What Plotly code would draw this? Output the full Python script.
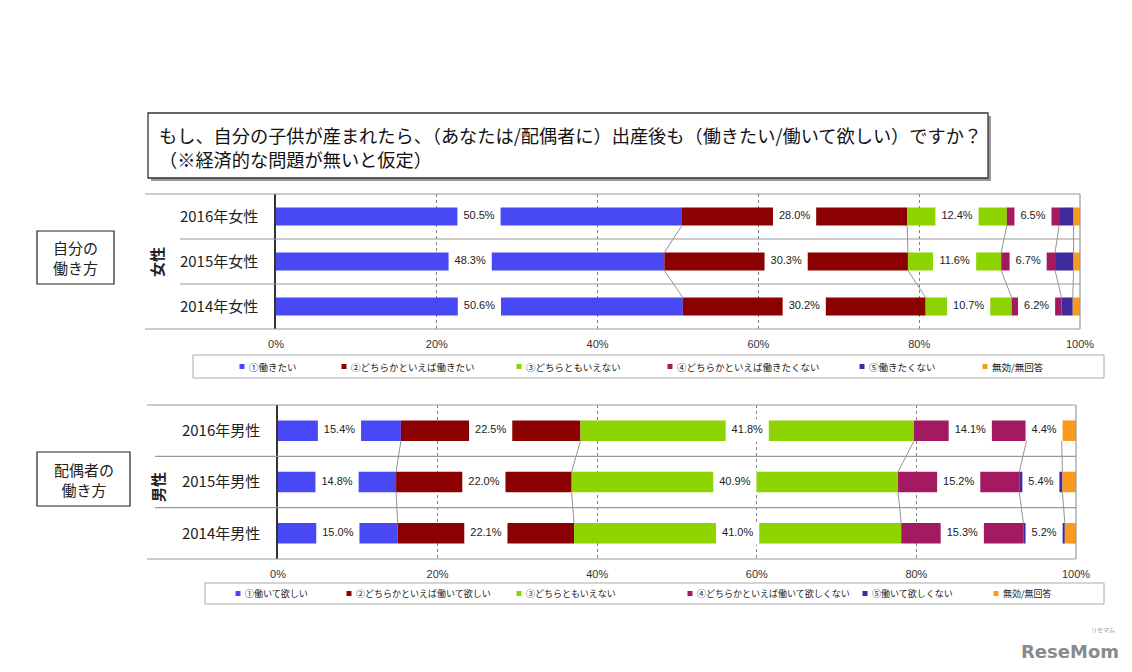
import plotly.graph_objects as go

W, H = 1132, 672

# ---------------- data ----------------
series_women = ["①働きたい", "②どちらかといえば働きたい", "③どちらともいえない",
                "④どちらかといえば働きたくない", "⑤働きたくない", "無効/無回答"]
series_men = ["①働いて欲しい", "②どちらかといえば働いて欲しい", "③どちらともいえない",
              "④どちらかといえば働いて欲しくない", "⑤働いて欲しくない", "無効/無回答"]

women_rows = ["2014年女性", "2015年女性", "2016年女性"]
women_1 = [50.6, 48.3, 50.5]
women_2 = [30.2, 30.3, 28.0]
women_3 = [10.7, 11.6, 12.4]
women_4 = [6.2, 6.7, 6.5]
women_5 = [1.4, 2.3, 1.8]
women_6 = [0.9, 0.8, 0.8]

men_rows = ["2014年男性", "2015年男性", "2016年男性"]
men_1 = [15.0, 14.8, 15.4]
men_2 = [22.1, 22.0, 22.5]
men_3 = [41.0, 40.9, 41.8]
men_4 = [15.3, 15.2, 14.1]
men_5 = [5.2, 5.4, 4.4]
men_6 = [1.4, 1.7, 1.8]

x_ticks = [0, 20, 40, 60, 80, 100]
x_tick_labels = ["0%", "20%", "40%", "60%", "80%", "100%"]

title_text = "もし、自分の子供が産まれたら、（あなたは/配偶者に）出産後も（働きたい/働いて欲しい）ですか？<br>（※経済的な問題が無いと仮定）"
box_top_text = "自分の<br>働き方"
box_bottom_text = "配偶者の<br>働き方"
side_top_text = "女性"
side_bottom_text = "男性"

# ---------------- style ----------------
colors = ["#4848F4", "#8B0000", "#8DD400", "#A31A60", "#3F2A9C", "#F79A1E"]
LABEL_MIN = 3.0
CJK = "Noto Sans CJK JP"
NUM = "Liberation Sans"
BAR_W = 0.4


def px_x(x):
    return x / W


def px_y(y):
    return 1 - y / H


def text_px(s, size=11):
    w = {"%": 0.889, ".": 0.278}
    return sum(w.get(ch, 0.556) for ch in s) * size


fig = go.Figure()


def add_panel(rows, series_vals, xa, ya, plot_px_width):
    ppu = plot_px_width / 100.0
    n = len(rows)
    ys = list(range(n))
    cum = [0.0] * n
    bounds = []
    gap_y, gap_x, gap_base, txt_x, txt_y, txt = [], [], [], [], [], []
    for k, vals in enumerate(series_vals):
        base = cum[:]
        fig.add_trace(go.Bar(y=ys, x=vals, base=base, orientation="h", width=BAR_W,
                             marker=dict(color=colors[k], line=dict(width=0)),
                             xaxis=xa, yaxis=ya, showlegend=False, hoverinfo="skip"))
        for i, v in enumerate(vals):
            if v >= LABEL_MIN:
                label = f"{v:.1f}%"
                g = (text_px(label) + 12) / ppu
                c = base[i] + v / 2
                gap_y.append(ys[i]); gap_x.append(g); gap_base.append(c - g / 2)
                txt_x.append(c); txt_y.append(ys[i]); txt.append(label)
        cum = [a + b for a, b in zip(cum, vals)]
        bounds.append(cum[:])
    fig.add_trace(go.Bar(y=gap_y, x=gap_x, base=gap_base, orientation="h", width=BAR_W + 0.04,
                         marker=dict(color="white", line=dict(width=0)),
                         xaxis=xa, yaxis=ya, showlegend=False, hoverinfo="skip"))
    fig.add_trace(go.Scatter(x=txt_x, y=txt_y, text=txt, mode="text",
                             textfont=dict(family=NUM, size=11, color="#222"),
                             xaxis=xa, yaxis=ya, showlegend=False, hoverinfo="skip"))
    lx, ly = [], []
    for b in bounds[:-1]:
        for i in range(n - 1, 0, -1):
            lx += [b[i], b[i - 1], None]
            ly += [ys[i] - BAR_W / 2, ys[i - 1] + BAR_W / 2, None]
    fig.add_trace(go.Scatter(x=lx, y=ly, mode="lines", line=dict(color="#777", width=0.8),
                             xaxis=xa, yaxis=ya, showlegend=False, hoverinfo="skip"))


TOP = dict(x0=276, x1=1080, y0=194, y1=329)
BOT = dict(x0=278, x1=1076, y0=405, y1=559)

add_panel(women_rows, [women_1, women_2, women_3, women_4, women_5, women_6], "x", "y",
          TOP["x1"] - TOP["x0"])
add_panel(men_rows, [men_1, men_2, men_3, men_4, men_5, men_6], "x2", "y2",
          BOT["x1"] - BOT["x0"])


def xaxis_cfg(P, anchor):
    return dict(domain=[px_x(P["x0"]), px_x(P["x1"])], range=[0, 100], anchor=anchor,
                tickvals=x_ticks, ticktext=x_tick_labels, showgrid=True, gridcolor="#808080",
                griddash="dot", gridwidth=1, zeroline=False, showline=False, ticks="",
                ticklabelstandoff=7, tickfont=dict(family=NUM, size=11, color="#333"),
                fixedrange=True, automargin=False)


def yaxis_cfg(P, anchor, rows):
    return dict(domain=[px_y(P["y1"]), px_y(P["y0"])], range=[-0.5, 2.5], anchor=anchor,
                tickvals=list(range(len(rows))), ticktext=rows, showgrid=False, zeroline=False,
                showline=True, linecolor="#333", linewidth=1.5, ticks="",
                ticklabelstandoff=13, tickfont=dict(family=CJK, size=15, color="#222"),
                fixedrange=True, automargin=False)


shapes = []


def pline(x0, y0, x1, y1, color="#9a9a9a", width=1.2, yref="paper"):
    shapes.append(dict(type="line", xref="paper", yref=yref, x0=px_x(x0), x1=px_x(x1),
                       y0=px_y(y0) if yref == "paper" else y0,
                       y1=px_y(y1) if yref == "paper" else y1,
                       line=dict(color=color, width=width)))


def prect(x0, y0, x1, y1, line_color="#333", width=1.2, fill="rgba(0,0,0,0)", layer="above"):
    shapes.append(dict(type="rect", xref="paper", yref="paper", x0=px_x(x0), x1=px_x(x1),
                       y0=px_y(y1), y1=px_y(y0), fillcolor=fill, layer=layer,
                       line=dict(color=line_color, width=width)))


# panel frames
pline(145, TOP["y0"], TOP["x1"], TOP["y0"])
pline(145, TOP["y1"], TOP["x1"], TOP["y1"])
pline(TOP["x1"], TOP["y0"], TOP["x1"], TOP["y1"])
for yv in [0.5, 1.5]:
    shapes.append(dict(type="line", xref="paper", yref="y", x0=px_x(180), x1=px_x(TOP["x1"]),
                       y0=yv, y1=yv, line=dict(color="#9a9a9a", width=1.2)))
pline(147, BOT["y0"], BOT["x1"], BOT["y0"])
pline(147, BOT["y1"], BOT["x1"], BOT["y1"])
pline(BOT["x1"], BOT["y0"], BOT["x1"], BOT["y1"])
for yv in [0.5, 1.5]:
    shapes.append(dict(type="line", xref="paper", yref="y2", x0=px_x(155), x1=px_x(BOT["x1"]),
                       y0=yv, y1=yv, line=dict(color="#9a9a9a", width=1.2)))

# title box with shadow
prect(151, 116, 991, 181, line_color="rgba(0,0,0,0)", width=0, fill="#9a9a9a", layer="below")
prect(148, 113, 988, 178, line_color="#333", width=1.3, fill="white", layer="below")
# side boxes
prect(37, 231, 114, 284, line_color="#222", width=1.2)
prect(37, 452, 130, 506, line_color="#222", width=1.2)
# legend boxes
prect(193, 355, 1104, 378, line_color="#aaa", width=1)
prect(205, 583, 1104, 604, line_color="#aaa", width=1)

annotations = []


def ptext(x, y, text, size, color="#111", xanchor="center", family=CJK, angle=0, align="center"):
    annotations.append(dict(xref="paper", yref="paper", x=px_x(x), y=px_y(y), text=text,
                            showarrow=False, xanchor=xanchor, yanchor="middle", align=align,
                            textangle=angle, font=dict(family=family, size=size, color=color)))


ptext(157, 147, title_text, 18.2, color="#111", xanchor="left", align="left")
ptext(75.5, 257.5, box_top_text, 15, color="#222")
ptext(83.5, 479, box_bottom_text, 15, color="#222")
ptext(157, 262, f"<b>{side_top_text}</b>", 15, color="#222", angle=-90)
ptext(157, 487, f"<b>{side_bottom_text}</b>", 15, color="#222", angle=-90)

# legends (small squares + labels)
top_leg_x = [242, 344, 519, 670, 862, 985]
bot_leg_x = [238, 349, 519, 690, 865, 996]
for names, xs, yc, fs in [(series_women, top_leg_x, 366.5, 9.5), (series_men, bot_leg_x, 593.5, 9)]:
    for name, x, c in zip(names, xs, colors):
        shapes.append(dict(type="rect", xref="paper", yref="paper", x0=px_x(x - 2.5),
                           x1=px_x(x + 2.5), y0=px_y(yc + 2.5), y1=px_y(yc - 2.5),
                           fillcolor=c, line=dict(width=0)))
        ptext(x + 5, yc, name, fs, color="#222", xanchor="left")

# watermark
ptext(1070, 651, "<b>ReseMom</b>", 18, color="#8a8a8a", family="DejaVu Sans")
ptext(1103, 629, "リセマム", 6, color="#9a9a9a")

fig.update_layout(
    width=W, height=H, margin=dict(l=0, r=0, t=0, b=0, autoexpand=False),
    autosize=False,
    paper_bgcolor="white", plot_bgcolor="rgba(0,0,0,0)",
    barmode="overlay", showlegend=False,
    xaxis=xaxis_cfg(TOP, "y"), yaxis=yaxis_cfg(TOP, "x", women_rows),
    xaxis2=xaxis_cfg(BOT, "y2"), yaxis2=yaxis_cfg(BOT, "x2", men_rows),
    shapes=shapes, annotations=annotations,
)

fig.write_html("out.html", config={"displayModeBar": False, "responsive": False},
               post_script="document.body.style.margin='0';document.body.style.overflow='hidden';")
